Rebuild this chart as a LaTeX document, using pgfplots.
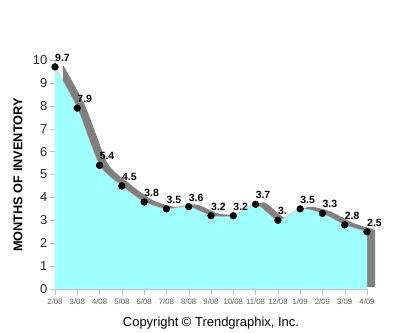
\documentclass[border=0pt]{standalone}
\usepackage{fontspec}
\setmainfont{Liberation Sans}
\usepackage{pgfplots}
\pgfplotsset{compat=1.18}
\definecolor{cyanfill}{RGB}{160,255,255}
\definecolor{band}{RGB}{128,128,128}
\definecolor{axisgray}{RGB}{192,192,192}
\begin{document}
\begin{tikzpicture}[x=1bp,y=1bp]
\path[use as bounding box] (0,0) rectangle (400,333);
\begin{axis}[
  at={(55bp,44bp)}, anchor=south west,
  scale only axis, width=312bp, height=229bp,
  xmin=0, xmax=14, ymin=0, ymax=10,
  clip=false,
  axis x line*=bottom, axis y line*=left,
  axis line style={axisgray,-},
  tick align=outside, major tick length=5.5bp,
  tick style={axisgray},
  xtick={0,...,14},
  xticklabels={2/08,3/08,4/08,5/08,6/08,7/08,8/08,9/08,10/08,11/08,12/08,1/09,2/09,3/09,4/09},
  ytick={0,...,10},
  /pgf/number format/assume math mode=true,
  x tick label style={font=\fontsize{7.8}{9}\selectfont, text=black!65, inner sep=1bp, yshift=-3bp},
  y tick label style={font=\fontsize{13}{14}\selectfont, text=black!85, inner sep=2bp},
]
\addplot[fill=band, draw=none, smooth, tension=0.4, xshift=8bp, yshift=2bp] coordinates {
(0,9.7)(1,7.9)(2,5.4)(3,4.5)(4,3.8)(5,3.5)(6,3.6)(7,3.2)(8,3.2)(9,3.7)(10,3.0)(11,3.5)(12,3.3)(13,2.8)(14,2.5)} \closedcycle;
\addplot[fill=cyanfill, draw=none, smooth, tension=0.4] coordinates {
(0,9.7)(1,7.9)(2,5.4)(3,4.5)(4,3.8)(5,3.5)(6,3.6)(7,3.2)(8,3.2)(9,3.7)(10,3.0)(11,3.5)(12,3.3)(13,2.8)(14,2.5)} \closedcycle;
\addplot[axisgray, line width=0.5bp, smooth, tension=0.4] coordinates {
(0,9.7)(1,7.9)(2,5.4)(3,4.5)(4,3.8)(5,3.5)(6,3.6)(7,3.2)(8,3.2)(9,3.7)(10,3.0)(11,3.5)(12,3.3)(13,2.8)(14,2.5)};
\addplot[only marks, mark=*, mark size=3.4bp, black,
  point meta=explicit symbolic, nodes near coords,
  every node near coord/.style={anchor=base west, xshift=0bp, yshift=5.5bp, inner sep=0pt, font=\bfseries\fontsize{10.5}{11}\selectfont, text=black}]
coordinates {
(0,9.7)[9.7](1,7.9)[7.9](2,5.4)[5.4](3,4.5)[4.5](4,3.8)[3.8](5,3.5)[3.5](6,3.6)[3.6](7,3.2)[3.2](8,3.2)[3.2](9,3.7)[3.7](10,3.0)[3.](11,3.5)[3.5](12,3.3)[3.3](13,2.8)[2.8](14,2.5)[2.5]};
\end{axis}
\node[rotate=90, font=\bfseries\fontsize{12.8}{14}\selectfont] at (18,158) {MONTHS OF INVENTORY};
\node[font=\fontsize{13}{15}\selectfont] at (211,10) {Copyright © Trendgraphix, Inc.};
\end{tikzpicture}
\end{document}
